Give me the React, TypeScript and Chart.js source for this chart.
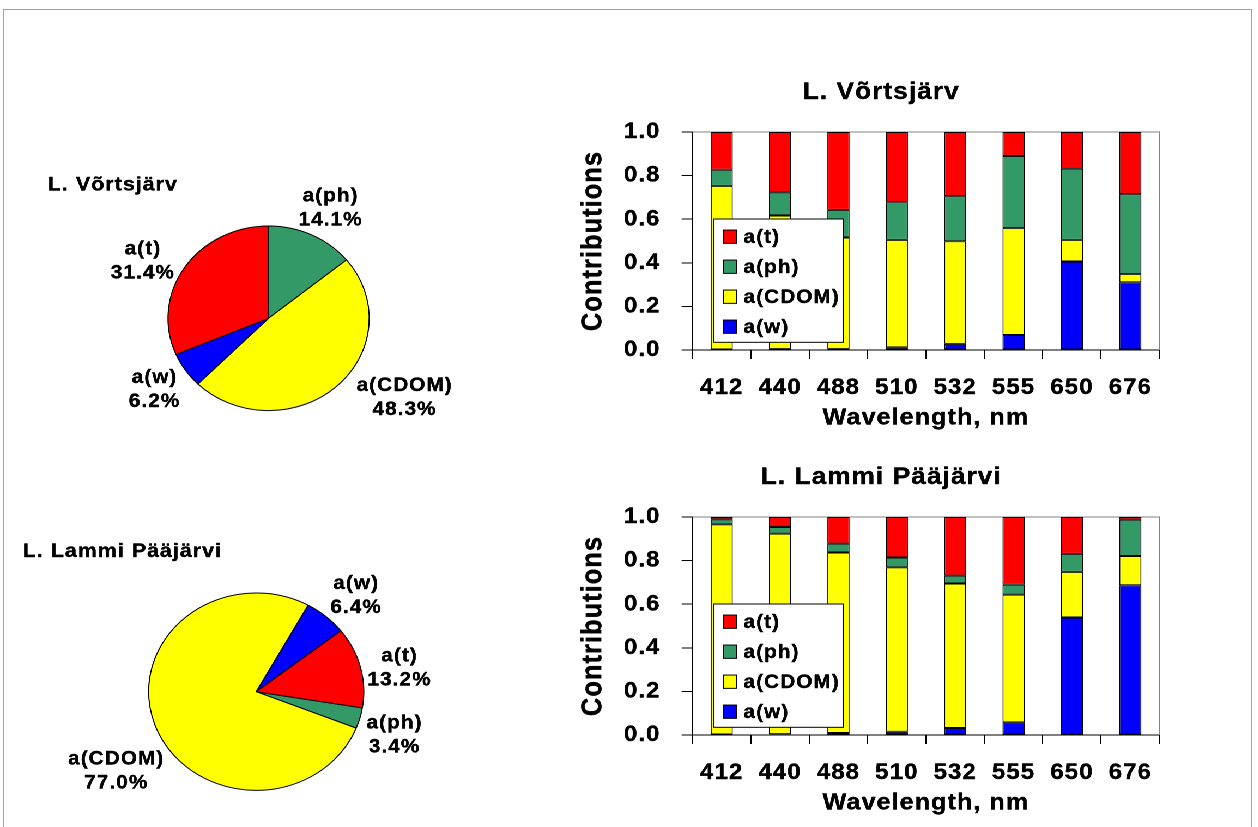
import React, { useEffect, useRef } from 'react';
import { Chart, registerables } from 'chart.js';

Chart.register(...registerables);

// ---------------- data ----------------
const wavelengths = ['412', '440', '488', '510', '532', '555', '650', '676'];
const seriesLabels = ['a(w)', 'a(CDOM)', 'a(ph)', 'a(t)'];

const vortsW = [0, 0.005, 0.005, 0.012, 0.028, 0.069, 0.406, 0.311];
const vortsCDOM = [0.753, 0.612, 0.511, 0.493, 0.471, 0.49, 0.099, 0.037];
const vortsPh = [0.074, 0.106, 0.127, 0.173, 0.207, 0.331, 0.327, 0.367];
const vortsT = [0.173, 0.277, 0.357, 0.322, 0.294, 0.11, 0.168, 0.285];

const lammiW = [0, 0.004, 0.009, 0.015, 0.032, 0.058, 0.539, 0.687];
const lammiCDOM = [0.966, 0.92, 0.828, 0.754, 0.663, 0.586, 0.209, 0.134];
const lammiPh = [0.023, 0.03, 0.041, 0.045, 0.036, 0.045, 0.083, 0.167];
const lammiT = [0.011, 0.046, 0.122, 0.186, 0.269, 0.311, 0.169, 0.012];

const pieLabels = ['a(ph)', 'a(CDOM)', 'a(w)', 'a(t)'];
const vortsShares = [14.1, 48.3, 6.2, 31.4];
const lammiShares = [3.4, 77.0, 6.4, 13.2];

const yTicks = [0, 0.2, 0.4, 0.6, 0.8, 1.0];

// ---------------- styles / layout ----------------
const S = 1.09; // horizontal stretch of the whole picture
const FAMILY = '"Liberation Sans", Arial, Helvetica, sans-serif';
const SPACING = '1px';
const TEXT_STROKE = 0.4;
const seriesColors = ['#0000FF', '#FFFF00', '#339966', '#FF0000'];
const pieColors = ['#339966', '#FFFF00', '#0000FF', '#FF0000'];

// pie label anchor offsets from the pie centre (unscaled px)
const vortsLabelOffsets = [[56.9, -109.9], [124.8, 79.6], [-104.6, 71.6], [-115.3, -56.8]];
const lammiLabelOffsets = [[126.9, 43.8], [-128.4, 79.8], [91.7, -96], [131.5, -23.4]];

function heavyText(ctx: any) {
  if (ctx.__heavy) return;
  ctx.__heavy = true;
  const orig = ctx.fillText.bind(ctx);
  ctx.fillText = (t: string, x: number, y: number, mw?: number) => {
    if (mw === undefined) orig(t, x, y); else orig(t, x, y, mw);
    ctx.save();
    ctx.lineWidth = TEXT_STROKE;
    ctx.strokeStyle = ctx.fillStyle;
    ctx.lineJoin = 'round';
    if (mw === undefined) ctx.strokeText(t, x, y); else ctx.strokeText(t, x, y, mw);
    ctx.restore();
  };
}

const spacingPlugin = {
  id: 'letterSpacingFix',
  beforeLayout(chart: any) { chart.ctx.letterSpacing = SPACING; },
  beforeDraw(chart: any) { heavyText(chart.ctx); chart.ctx.letterSpacing = SPACING; },
};

const boxLegendPlugin = {
  id: 'boxLegend',
  beforeDatasetsDraw(chart: any) {
    const { ctx, chartArea } = chart;
    ctx.save();
    ctx.strokeStyle = '#808080';
    ctx.lineWidth = 1;
    ctx.beginPath();
    ctx.moveTo(chartArea.left, chartArea.top);
    ctx.lineTo(chartArea.right, chartArea.top);
    ctx.lineTo(chartArea.right, chartArea.bottom);
    ctx.stroke();
    ctx.restore();
  },
  afterDatasetsDraw(chart: any, _args: any, o: any) {
    const { ctx, chartArea } = chart;
    const x0 = chartArea.left + o.dx;
    const y0 = chartArea.top + o.dy;
    ctx.save();
    ctx.letterSpacing = SPACING;
    ctx.fillStyle = '#fff';
    ctx.fillRect(x0, y0, o.w, o.h);
    ctx.strokeStyle = '#000';
    ctx.lineWidth = 1;
    ctx.strokeRect(x0, y0, o.w, o.h);
    const items = chart.data.datasets.map((d: any) => d).reverse();
    ctx.font = `bold ${o.fontSize}px ${FAMILY}`;
    ctx.textBaseline = 'middle';
    ctx.textAlign = 'left';
    items.forEach((d: any, i: number) => {
      const cy = y0 + o.firstRow + i * o.rowGap;
      ctx.fillStyle = d.backgroundColor;
      ctx.fillRect(x0 + o.markerX, cy - o.markerH / 2, o.markerW, o.markerH);
      ctx.strokeStyle = '#000';
      ctx.lineWidth = 1;
      ctx.strokeRect(x0 + o.markerX, cy - o.markerH / 2, o.markerW, o.markerH);
      ctx.fillStyle = '#000';
      ctx.fillText(d.label, x0 + o.textX, cy + 1);
    });
    ctx.restore();
  },
};

const pieLabelPlugin = {
  id: 'pieLabels',
  afterDatasetsDraw(chart: any, _args: any, o: any) {
    const { ctx } = chart;
    const arc = chart.getDatasetMeta(0).data[0];
    const cx = arc.x;
    const cy = arc.y;
    ctx.save();
    ctx.letterSpacing = SPACING;
    ctx.font = `bold ${o.fontSize}px ${FAMILY}`;
    ctx.fillStyle = '#000';
    ctx.textAlign = 'center';
    ctx.textBaseline = 'middle';
    chart.data.labels.forEach((lab: string, i: number) => {
      const [dx, dy] = o.offsets[i];
      const v = chart.data.datasets[0].data[i];
      ctx.fillText(lab, cx + dx, cy + dy - o.lineGap / 2);
      ctx.fillText(Number(v).toFixed(1) + '%', cx + dx, cy + dy + o.lineGap / 2);
    });
    ctx.restore();
  },
};

type Box = { left: number; top: number; width: number; height: number };

// bar chart geometry (page px)
const BAR_CANVAS_LEFT = 575;
const BAR_CANVAS_RIGHT = 1187;
const BAR_PLOT_LEFT = 692;
const BAR_PLOT_RIGHT = 1159;
const BAR_CANVAS_H = 380;
const BAR_TITLE_FONT = 24;
const BAR_PLOT_OFFSET = 72; // plot top below canvas top
const BAR_TITLE_CENTER = 32.5;
const BAR_PLOT_H = 218;
const X_AXIS_H = 81.8;
const Y_TITLE_CENTER = 16.5; // unscaled, from canvas left
const Y_TITLE_FONT = 25.5;

function barSetup(canvasTop: number, title: string, series: number[][]) {
  const cw = Math.round((BAR_CANVAS_RIGHT - BAR_CANVAS_LEFT) / S);
  const yAreaW = (BAR_PLOT_LEFT - BAR_CANVAS_LEFT) / S;
  const plotW = (BAR_PLOT_RIGHT - BAR_PLOT_LEFT) / S;
  const pad = cw - yAreaW - plotW; // symmetric side padding keeps the title centred on the canvas
  const yw = yAreaW - pad;
  const titleLH = BAR_TITLE_FONT * 1.2;
  const titlePadTop = BAR_TITLE_CENTER - titleLH / 2;
  const titlePadBottom = BAR_PLOT_OFFSET - titlePadTop - titleLH;
  const padBottom = BAR_CANVAS_H - BAR_PLOT_OFFSET - BAR_PLOT_H - X_AXIS_H;
  const yTitlePad = Y_TITLE_CENTER - pad - (Y_TITLE_FONT * 1.2) / 2;
  const box: Box = { left: BAR_CANVAS_LEFT / S, top: canvasTop, width: cw, height: BAR_CANVAS_H };
  const config: any = {
    type: 'bar',
    data: {
      labels: wavelengths,
      datasets: series.map((d, i) => ({
        label: seriesLabels[i],
        data: d,
        backgroundColor: seriesColors[i],
        borderColor: '#000',
        borderWidth: 1,
        borderSkipped: false,
        barPercentage: 0.38,
        categoryPercentage: 1,
      })),
    },
    options: {
      animation: false,
      responsive: true,
      maintainAspectRatio: false,
      devicePixelRatio: 2,
      events: [],
      layout: { padding: { left: pad, top: 0, right: pad, bottom: padBottom } },
      plugins: {
        legend: { display: false },
        tooltip: { enabled: false },
        title: {
          display: true,
          text: title,
          color: '#000',
          font: { family: FAMILY, size: BAR_TITLE_FONT, weight: 'bold' },
          padding: { top: titlePadTop, bottom: titlePadBottom },
        },
        boxLegend: {
          dx: 21 / S, dy: 87, w: 130 / S, h: 123.3,
          firstRow: 17.7, rowGap: 30,
          markerX: 10 / S, markerW: 13.3 / S, markerH: 13.3,
          textX: 30 / S, fontSize: 19,
        },
      },
      scales: {
        x: {
          stacked: true,
          offset: true,
          grid: { display: true, drawOnChartArea: false, drawTicks: true, tickLength: 9, tickColor: '#000', color: '#000', offset: true },
          border: { display: true, color: '#000', width: 1 },
          ticks: { color: '#000', font: { family: FAMILY, size: 22, weight: 'bold' }, padding: 15.5, maxRotation: 0, autoSkip: false },
          title: { display: true, text: 'Wavelength, nm', color: '#000', font: { family: FAMILY, size: 23, weight: 'bold' }, padding: { top: 0, bottom: 0 } },
          afterFit: (s: any) => { s.height = X_AXIS_H; },
        },
        y: {
          stacked: true,
          min: 0,
          max: 1,
          afterBuildTicks: (s: any) => { s.ticks = yTicks.map((v) => ({ value: v })); },
          grid: { display: true, drawOnChartArea: false, drawTicks: true, tickLength: 10, tickColor: '#000', color: '#000' },
          border: { display: true, color: '#000', width: 1 },
          ticks: {
            color: '#000',
            font: { family: FAMILY, size: 22, weight: 'bold' },
            padding: 19.4,
            callback: (v: any) => Number(v).toFixed(1),
          },
          title: { display: true, text: 'Contributions', color: '#000', font: { family: FAMILY, size: Y_TITLE_FONT, weight: 'bold' }, padding: { top: yTitlePad, bottom: 0 } },
          afterFit: (s: any) => { s.width = yw; },
        },
      },
    },
    plugins: [spacingPlugin, boxLegendPlugin],
  };
  return { box, config };
}

const PIE_TITLE_FONT = 19.5;

function pieSetup(
  canvasLeft: number, canvasTop: number, canvasBottom: number,
  titleLeft: number, titleCenter: number,
  cx: number, cy: number, r: number,
  title: string, shares: number[], rotation: number, offsets: number[][],
) {
  const pl = (titleLeft - canvasLeft) / S;
  const centerU = (cx - canvasLeft) / S;
  const areaW = 2 * (centerU - pl);
  const cw = Math.round(pl + areaW + pl + 1);
  const pr = cw - pl - areaW;
  const lh = PIE_TITLE_FONT * 1.2;
  const pt = titleCenter - canvasTop - lh / 2;
  const areaTop = cy - r - 0.5;
  const pb = areaTop - canvasTop - pt - lh;
  const areaH = 2 * r + 1;
  const ch = canvasBottom - canvasTop;
  const padBottom = ch - (areaTop - canvasTop) - areaH;
  const box: Box = { left: canvasLeft / S, top: canvasTop, width: cw, height: ch };
  const config: any = {
    type: 'pie',
    data: {
      labels: pieLabels,
      datasets: [{
        data: shares,
        backgroundColor: pieColors,
        borderColor: '#000',
        borderWidth: 1,
        hoverOffset: 0,
        offset: 0,
      }],
    },
    options: {
      animation: false,
      responsive: true,
      maintainAspectRatio: false,
      devicePixelRatio: 2,
      events: [],
      rotation,
      layout: { padding: { left: pl, right: pr, top: 0, bottom: padBottom } },
      plugins: {
        legend: { display: false },
        tooltip: { enabled: false },
        title: {
          display: true,
          text: title,
          align: 'start',
          color: '#000',
          font: { family: FAMILY, size: PIE_TITLE_FONT, weight: 'bold' },
          padding: { top: pt, bottom: pb },
        },
        pieLabels: { offsets, fontSize: 19, lineGap: 24 },
      },
    },
    plugins: [spacingPlugin, pieLabelPlugin],
  };
  return { box, config };
}

function ChartBox({ box, config }: { box: Box; config: any }) {
  const ref = useRef<HTMLCanvasElement>(null);
  useEffect(() => {
    const chart = new Chart(ref.current as HTMLCanvasElement, config);
    return () => chart.destroy();
  }, []);
  return (
    <div style={{ position: 'absolute', left: box.left, top: box.top, width: box.width, height: box.height }}>
      <canvas ref={ref} />
    </div>
  );
}

export default function App() {
  const topBar = barSetup(60, 'L. Võrtsjärv', [vortsW, vortsCDOM, vortsPh, vortsT]);
  const botBar = barSetup(445, 'L. Lammi Pääjärvi', [lammiW, lammiCDOM, lammiPh, lammiT]);
  const topPie = pieSetup(44, 160, 430, 48.3, 185, 269, 318.3, 92.3, 'L. Võrtsjärv', vortsShares, 0, vortsLabelOffsets);
  const botPie = pieSetup(19, 525, 820, 23.3, 551.7, 256.7, 691.7, 98.7, 'L. Lammi Pääjärvi', lammiShares, 99.4, lammiLabelOffsets);
  return (
    <div style={{ position: 'absolute', left: 0, top: 0, width: 1258, height: 827, overflow: 'hidden', background: '#fff' }}>
      <div style={{ position: 'absolute', left: 3, top: 9, width: 1249, height: 818, border: '1px solid #a0a0a0', borderBottom: 'none', boxSizing: 'border-box' }} />
      <div style={{ position: 'absolute', left: 0, top: 0, width: 1258 / S, height: 827, transform: `scaleX(${S})`, transformOrigin: '0 0' }}>
        <ChartBox box={topPie.box} config={topPie.config} />
        <ChartBox box={botPie.box} config={botPie.config} />
        <ChartBox box={topBar.box} config={topBar.config} />
        <ChartBox box={botBar.box} config={botBar.config} />
      </div>
    </div>
  );
}
